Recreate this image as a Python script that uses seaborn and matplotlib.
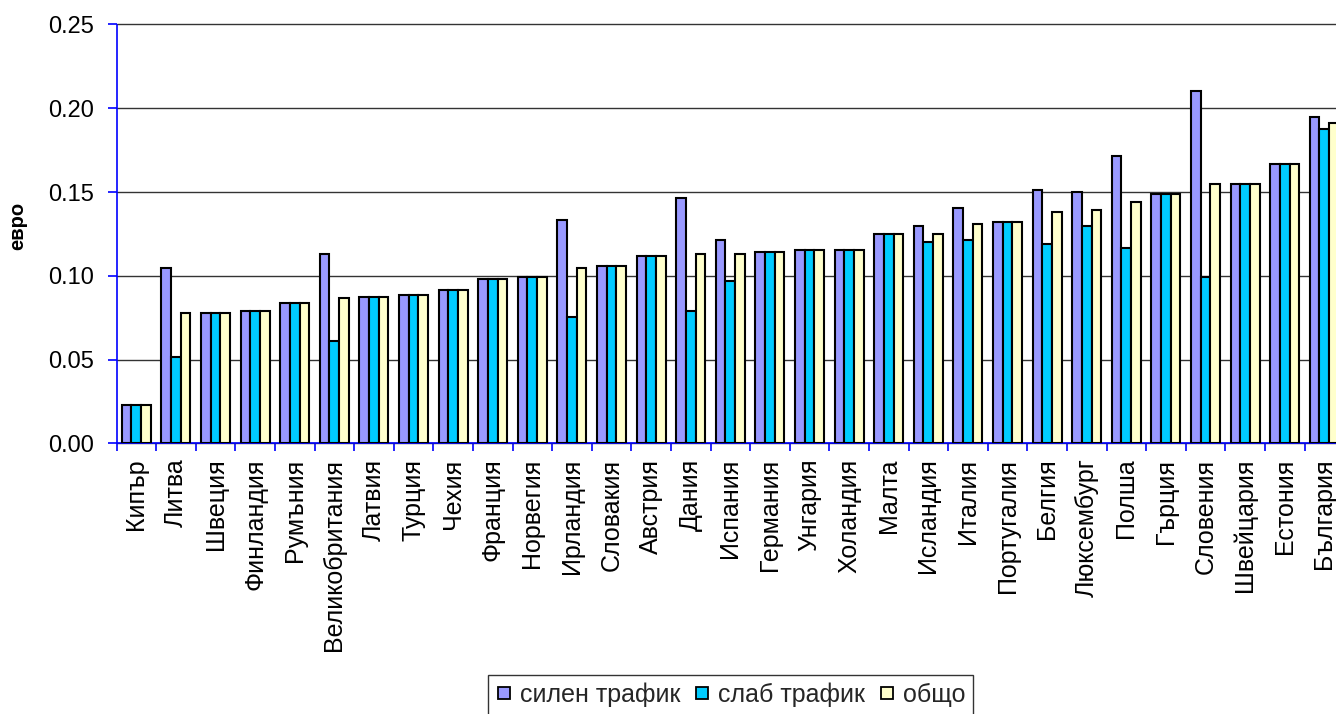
import matplotlib
matplotlib.use("Agg")
import matplotlib.pyplot as plt
from matplotlib.lines import Line2D
from matplotlib.ticker import MultipleLocator, FixedLocator, FormatStrFormatter
import seaborn as sns
import pandas as pd
import numpy as np

countries = ["Кипър", "Литва", "Швеция", "Финландия", "Румъния", "Великобритания",
             "Латвия", "Турция", "Чехия", "Франция", "Норвегия", "Ирландия",
             "Словакия", "Австрия", "Дания", "Испания", "Германия", "Унгария",
             "Холандия", "Малта", "Исландия", "Италия", "Португалия", "Белгия",
             "Люксембург", "Полша", "Гърция", "Словения", "Швейцария", "Естония",
             "България"]

peak = [0.0227, 0.1045, 0.0780, 0.0792, 0.0840, 0.1128, 0.0875, 0.0887, 0.0913,
        0.0983, 0.0995, 0.1333, 0.1057, 0.1116, 0.1466, 0.1214, 0.1140, 0.1154,
        0.1154, 0.1248, 0.1297, 0.1407, 0.1321, 0.1514, 0.1500, 0.1717, 0.1488,
        0.2103, 0.1548, 0.1670, 0.1946]
offpeak = [0.0227, 0.0515, 0.0780, 0.0792, 0.0840, 0.0610, 0.0875, 0.0887, 0.0913,
           0.0983, 0.0995, 0.0756, 0.1057, 0.1116, 0.0790, 0.0971, 0.1140, 0.1154,
           0.1154, 0.1248, 0.1200, 0.1212, 0.1321, 0.1190, 0.1297, 0.1164, 0.1488,
           0.0995, 0.1548, 0.1670, 0.1875]
overall = [0.0227, 0.0780, 0.0780, 0.0792, 0.0840, 0.0866, 0.0875, 0.0887, 0.0913,
           0.0983, 0.0995, 0.1045, 0.1057, 0.1116, 0.1128, 0.1128, 0.1140, 0.1154,
           0.1154, 0.1248, 0.1250, 0.1310, 0.1321, 0.1380, 0.1395, 0.1440, 0.1488,
           0.1548, 0.1548, 0.1670, 0.1913]

series_names = ["силен трафик", "слаб трафик", "общо"]
series_colors = ["#9999FF", "#00CCFF", "#FFFFCC"]

df = pd.DataFrame({
    "country": countries * 3,
    "value": peak + offpeak + overall,
    "series": np.repeat(series_names, len(countries)),
})

sns.set_theme(style="white")
plt.rcParams["font.family"] = ["Liberation Sans", "DejaVu Sans"]

fig = plt.figure(figsize=(13.36, 7.14), dpi=100)
ax = fig.add_axes([116.5 / 1336, 1 - 443.3 / 714, 31 * 39.6 / 1336, (443.3 - 24.5) / 714])

sns.barplot(data=df, x="country", y="value", hue="series", order=countries,
            hue_order=series_names, palette=series_colors, width=0.73,
            edgecolor="black", linewidth=1.5, saturation=1, ax=ax, legend=False,
            zorder=3)

ax.set_ylim(0, 0.25)
ax.set_xlim(-0.5, len(countries) - 0.5)
ax.yaxis.set_major_locator(MultipleLocator(0.05))
ax.yaxis.set_major_formatter(FormatStrFormatter("%.2f"))
ax.grid(axis="y", color="#333333", linewidth=1.0, zorder=0)
ax.set_axisbelow(True)
for gl in ax.get_ygridlines():
    gl.set_clip_on(False)

# category boundary ticks on x, labels at centres
ax.xaxis.set_minor_locator(FixedLocator(np.arange(-0.5, len(countries), 1.0)))
ax.tick_params(axis="x", which="major", bottom=False, length=0, pad=11,
               labelsize=18, labelrotation=90, labelcolor="black")
ax.tick_params(axis="x", which="minor", bottom=True, length=6, width=1.2,
               color="blue", direction="out")
ax.tick_params(axis="y", which="major", left=True, length=6.5, width=1.2,
               color="blue", direction="out", labelsize=17, pad=10, labelcolor="black")
for lab in ax.get_xticklabels():
    lab.set_verticalalignment("top")

for side in ("top", "right"):
    ax.spines[side].set_visible(False)
for side in ("left", "bottom"):
    ax.spines[side].set_color("blue")
    ax.spines[side].set_linewidth(1.2)

ax.set_xlabel("")
ax.set_ylabel("евро", fontsize=14.5, fontweight="bold", color="black")
ax.yaxis.set_label_coords(-0.0727, 0.518)

# square swatches for the legend
handles = [Line2D([], [], linestyle="none", marker="s", markersize=9,
                  markerfacecolor=c, markeredgecolor="black", markeredgewidth=1.3)
           for c in series_colors]
leg = fig.legend(handles, series_names, loc="upper left",
                 bbox_to_anchor=(488 / 1336, 1 - 675 / 714),
                 borderaxespad=0, ncol=3, frameon=True, fontsize=18,
                 handlelength=0.7, handletextpad=0.3,
                 columnspacing=0.5, borderpad=0.3,
                 fancybox=False, edgecolor="black")
leg.get_frame().set_linewidth(1.0)

fig.savefig("out.png", dpi=100, facecolor="white")
